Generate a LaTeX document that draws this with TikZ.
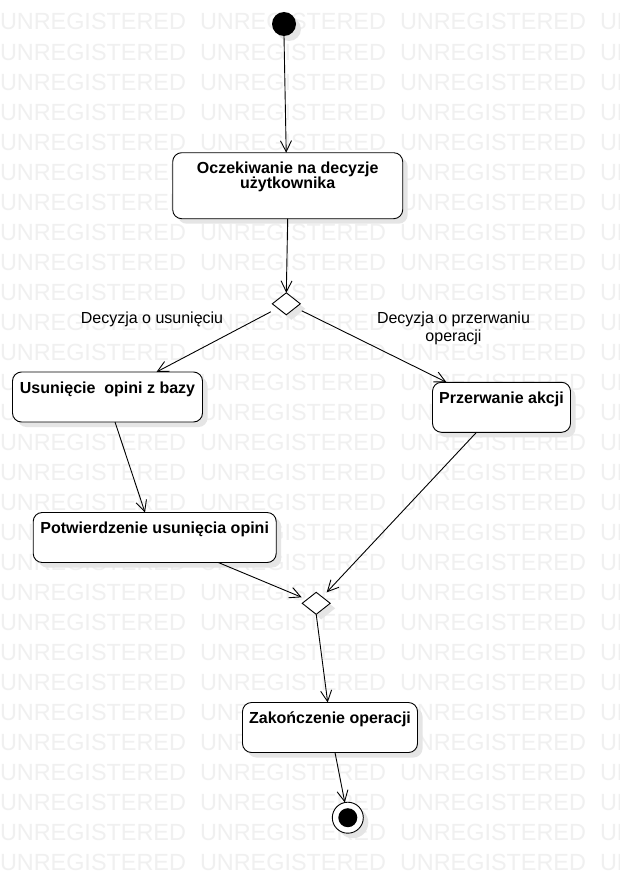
\documentclass[tikz,border=0pt]{standalone}
\usepackage{fontspec}
\setmainfont{Liberation Sans}
\usetikzlibrary{arrows.meta,shapes.geometric,shadows}

\begin{document}
\begin{tikzpicture}[x=1pt,y=-1pt,
  every node/.style={inner sep=0pt, outer sep=0pt},
  shadowed/.style={drop shadow={shadow xshift=5pt, shadow yshift=-5pt, fill=black!10, opacity=1}},
  wm/.style={anchor=base west, text=black!6, font=\fontsize{23.4}{24}\selectfont},
  act/.style={draw, line width=0.9pt, rounded corners=9pt, fill=white, shadowed},
  dec/.style={diamond, draw, line width=0.9pt, fill=white, minimum width=28pt, minimum height=22pt, shadowed},
  acttext/.style={anchor=base, align=center, font=\fontsize{16}{15}\selectfont\bfseries},
  guard/.style={anchor=base, align=center, font=\fontsize{16}{17.5}\selectfont},
  flow/.style={line width=0.9pt, -{Straight Barb[length=11pt,width=11pt]}}
]
% page and background lettering
\fill[white] (0,0) rectangle (620,883);
\useasboundingbox (0,0) rectangle (620,883);
\foreach \r in {0,...,28}{
  \foreach \c in {0,...,3}{
    \node[wm] (wm-\r-\c) at (200*\c, 30+30*\r) {UNREGISTERED};
  }
}

% start and end states
\node[circle, fill=black, minimum size=24pt, shadowed] (start) at (284,24) {};
\node[circle, draw, fill=white, line width=0.9pt, minimum size=31pt, shadowed] (end) at (347.8,817.7) {};
\fill (end.center) circle (9.5pt);

% actions
\node[act, minimum width=230pt, minimum height=66pt] (b1) at (287.7,185.7) {};
\node[act, minimum width=190pt, minimum height=50pt] (b2) at (107.5,397) {};
\node[act, minimum width=138pt, minimum height=50pt] (b3) at (501.5,407.3) {};
\node[act, minimum width=243pt, minimum height=50pt] (b4) at (154.7,537.5) {};
\node[act, minimum width=175pt, minimum height=50pt] (b5) at (330,727.5) {};

% multi-line texts sit on the baseline of their last line
\node[acttext] (t1) at ([yshift=-35.6pt]b1.north) {Oczekiwanie na decyzje\\użytkownika};
\node[acttext] (t2) at ([yshift=-21.5pt]b2.north) {Usunięcie\ \ opini z bazy};
\node[acttext] (t3) at ([yshift=-21pt]b3.north) {Przerwanie akcji};
\node[acttext] (t4) at ([yshift=-20.6pt]b4.north) {Potwierdzenie usunięcia opini};
\node[acttext] (t5) at ([yshift=-20.6pt]b5.north) {Zakończenie operacji};

% decision and merge
\node[dec] (d1) at (286.3,303.8) {};
\node[dec] (d2) at (316.2,603.3) {};

% guards
\node[guard] (g1) at (152,323.5) {Decyzja o usunięciu};
\node[guard] (g2) at (453.5,341) {Decyzja o przerwaniu\\operacji};

% transitions
\draw[flow] (start.south) -- ([xshift=-1.5pt]b1.north);
\draw[flow] (b1.south) -- (d1.north);
\draw[flow] ([xshift=-1.5pt,yshift=-8pt]d1.west) -- ([xshift=49pt]b2.north);
\draw[flow] ([xshift=1.5pt,yshift=-7pt]d1.east) -- ([xshift=-55pt]b3.north);
\draw[flow] ([xshift=7.5pt]b2.south) -- ([xshift=-9.7pt]b4.north);
\draw[flow] ([xshift=-25pt]b3.south) -- ([xshift=10.5pt]d2.north);
\draw[flow] ([xshift=63.6pt]b4.south) -- ([xshift=-0.5pt,yshift=6pt]d2.west);
\draw[flow] (d2.south) -- ([xshift=-2.3pt]b5.north);
\draw[flow] ([xshift=5pt]b5.south) -- (end);
\end{tikzpicture}
\end{document}
